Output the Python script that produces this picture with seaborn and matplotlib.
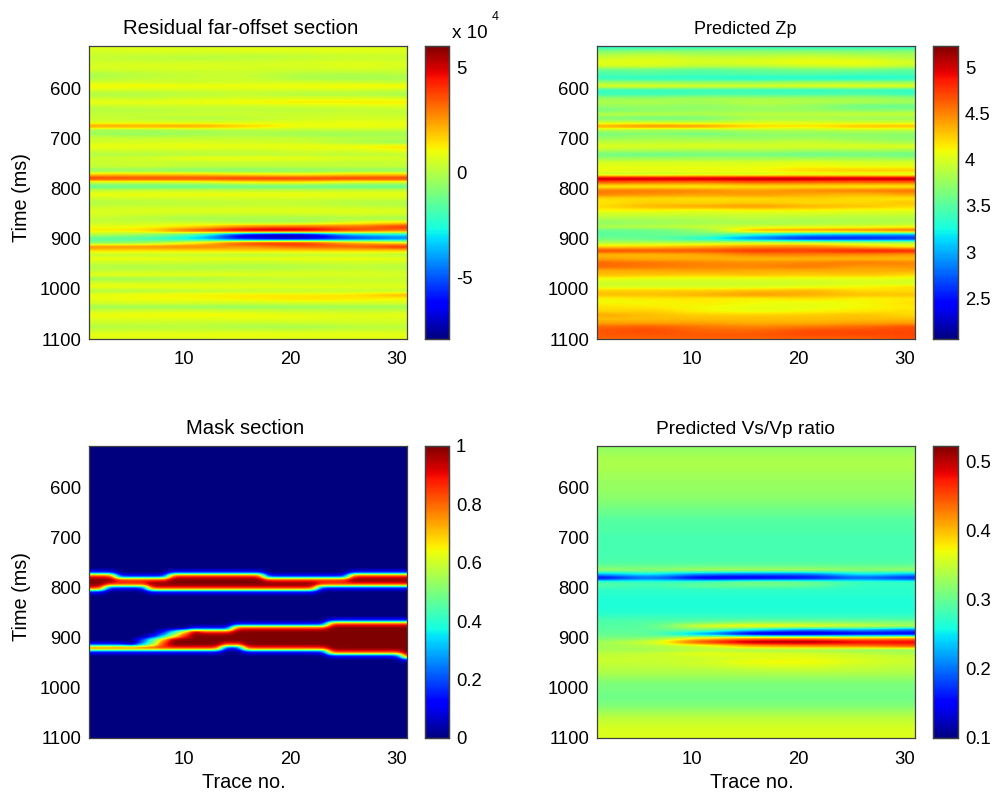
import numpy as np
import pandas as pd
import matplotlib
matplotlib.use("Agg")
import matplotlib.pyplot as plt
import seaborn as sns

traces_coarse = [1, 6, 11, 16, 21, 26, 31]
times = list(range(516, 1101, 8))

residual = [
 [.6,.6,.6,.6,.6,.6,.5],[.6,.8,.7,.9,.8,.9,.7],[.4,.4,.4,.3,.4,.5,.5],[.3,.1,0,.1,.2,.3,.3],
 [.5,.5,.5,.5,.6,.7,.6],[.6,.7,.7,.6,.6,.8,.6],[.5,.5,.5,.5,.4,.5,.4],[-.2,.1,.3,.3,0,-.1,.1],
 [-.1,.2,.3,.4,-.2,-.3,-.2],[.5,.5,.4,.5,.5,.4,.2],[1.2,1.2,1.1,1,1.1,1.2,1.3],[.6,.5,.5,.6,.5,.5,.3],
 [-.1,-.1,.1,.2,-.1,-.1,-.3],[.4,.3,.5,.6,.7,.7,.6],[1,.9,1,1.2,1.3,1.3,1.3],[.3,.4,.4,.3,.5,.6,.7],
 [0,0,.2,.2,.1,.2,.2],[.3,.3,.4,.4,.4,.4,.3],[.3,.2,-.1,.1,.4,.5,.5],[.6,.6,.5,.6,.8,.9,.8],
 [2.6,2.5,2.6,1.8,1,1,.9],[-.4,-.4,-.3,0,.1,.2,.2],[-.3,-.5,-.3,-.2,-.4,-.4,-.3],[.4,.3,.3,.3,.3,.1,0],
 [.5,.6,.6,.5,.4,-.1,-.5],[1,.9,1,.9,1,1.1,1.5],[.5,.5,.4,.4,.6,.6,1],[-.1,0,0,.1,.2,.1,.2],
 [.4,.5,1,1,.9,.7,.6],[.3,.4,.2,.3,.3,.2,.3],[.3,.4,.2,.2,.2,.3,.3],[-.7,-.8,-1,-1,-.8,-.8,-.8],
 [1.7,1.8,1.8,1.4,1.1,1.7,1.8],[4.2,4,4,4.2,4.2,4.1,4.2],[.3,.3,.3,1,1.1,.4,.3],[-1.5,-1.5,-1.5,-1.4,-1.4,-1.5,-1.5],
 [.3,.4,.4,.3,.3,.4,.4],[1,1,1,1,1,.9,.9],[.4,.5,.5,.5,.6,.5,.5],[-.1,0,.1,.2,.2,-.1,-.1],
 [.3,.4,.3,.4,.4,.3,.1],[.6,.7,.8,.8,.8,.8,.7],[.6,.5,.3,.3,.4,.5,.4],[.3,0,-.3,-.2,-.3,-.2,-.4],
 [.3,.4,.5,-.1,-.2,.9,1.5],[.9,.9,1.4,2.8,3.3,3,4.2],[1.3,1.4,3.8,6,6,4,3],[.1,-.5,-1.6,-7.2,-7.9,-3.6,-3],
 [-1.6,-1.8,-3.4,-7,-7.2,-5.6,-4.6],[-.9,-.7,1.1,4.4,4.6,2.3,1.1],[2.8,2.8,3,2.4,3.4,3.3,4.5],[1.5,1.4,1.5,1.6,1.6,1.7,1.6],
 [.2,.2,.2,0,.1,.2,0],[1,1,.9,.9,1,1,.9],[.4,.4,.4,.3,.4,.5,.4],[-.1,-.1,-.1,-.2,-.1,.1,0],
 [.2,.3,.3,.3,.4,.5,.3],[.9,.9,.9,.8,.7,.7,.6],[-.5,-.4,-.3,.1,.2,.3,.3],[.6,.5,.5,.5,.4,.5,.5],
 [1,1,1,.9,.9,.8,.8],[-.1,-.1,.1,.1,.1,.2,.1],[.9,1.1,1.2,1.3,1.3,1.4,2.2],[.8,1,1,1.2,1.4,1.3,1],
 [.6,.6,.6,.5,.6,.6,.6],[-.4,-.4,-.5,-.6,-.5,-.4,-.4],[.4,.5,.5,.4,.3,.3,.3],[1,1.1,1.2,1.1,.9,.8,.9],
 [.7,.7,.7,.8,.8,.6,.6],[.4,.4,.3,.3,.4,.5,.5],[-.1,0,.1,-.2,-.3,0,.1],[.5,.5,.5,.5,.5,.5,.5],
 [.9,.9,.9,1,.9,.9,.9],[.7,.7,.7,.7,.7,.7,.7],
]

zp = [
 [3.2]*7,[3.6,3.6,3.65,3.65,3.6,3.6,3.6],[3.8,3.9,3.8,3.8,3.85,3.8,3.8],[3.95,4,3.95,3.95,4,3.95,3.85],
 [4.05,4.05,4,4.05,4.1,4.1,4],[4,4,3.9,3.9,3.95,4,3.9],[3.55,3.55,3.5,3.55,3.6,3.6,3.5],[3.45,3.5,3.45,3.5,3.5,3.45,3.45],
 [3.35,3.3,3.3,3.25,3.25,3.25,3.3],[3.75,3.7,3.7,3.7,3.75,3.75,3.7],[4.05,4.1,4.05,4.05,4.1,4.1,4.1],[3.35,3.35,3.35,3.35,3.3,3.35,3.3],
 [3.4,3.4,3.45,3.45,3.45,3.5,3.4],[3.75,3.75,3.8,3.8,3.8,3.8,3.75],[3.85,3.85,3.8,3.9,3.85,3.85,3.8],[3.75,3.75,3.7,3.8,3.75,3.55,3.55],
 [3.6,3.7,3.75,3.75,3.75,3.7,3.7],[3.9,3.9,3.85,3.9,3.9,3.95,3.95],[3.65,3.55,3.6,3.8,3.8,3.75,3.75],[3.95,3.95,3.9,4,4,3.95,3.95],
 [4.4,4.55,4.5,4.25,4.2,4.35,4.35],[3.85,3.75,3.75,3.85,3.85,3.9,3.85],[3.6,3.7,3.6,3.7,3.7,3.7,3.7],[3.75,3.8,3.8,3.75,3.8,3.75,3.7],
 [3.9,3.9,3.9,3.9,3.95,3.85,3.8],[4.05,4,4.05,4,4,4.05,4.05],[3.85,3.85,3.8,3.85,3.8,3.8,3.8],[3.6,3.55,3.6,3.6,3.55,3.6,3.55],
 [3.75,3.8,3.8,3.8,3.8,3.8,3.75],[4,4,4,4,4.05,4,4],[4.05,4.05,4.05,4.05,4.1,4.05,4.05],[4.1,4.05,4.1,4.1,4.25,4.3,4.3],
 [3.9,3.9,3.95,3.95,3.95,3.95,3.9],[5.15,5.15,5.15,5.2,5.2,5.15,5.2],[4.6,4.55,4.5,4.6,4.55,4.55,4.55],[4.1,4.1,4.1,4.15,4.15,4.1,4.1],
 [4.55,4.55,4.5,4.4,4.5,4.55,4.6],[4.5,4.45,4.4,4.45,4.35,4.3,4.4],[4.2,4.2,4.2,4.2,4.25,4.2,4.15],[4.15,4.25,4.2,4.25,4.2,4.2,4.3],
 [4.2,4.35,4.4,4.45,4.35,4.3,4.2],[4.1,4.1,4.05,4.1,4.1,4.05,4.05],[3.95,3.95,3.95,3.95,3.95,3.95,3.95],[3.85,3.85,3.85,3.9,3.85,3.85,3.85],
 [3.7,3.75,3.8,3.8,3.8,3.85,3.85],[3.85,3.9,3.95,3.95,4,4,4.05],[3.55,3.55,3.7,4.45,4.5,4.6,4.7],[3.5,3.55,3.65,3.25,3,2.9,2.9],
 [3.6,3.55,3.25,2.75,2.4,2.45,2.5],[3.85,3.85,3.9,4,4,3.9,3.9],[4.2,4.25,4.35,4.45,4.5,4.3,4.1],[4.75,4.7,4.7,4.8,4.75,4.9,4.9],
 [4.3,4.3,4.35,4.5,4.5,4.45,4.4],[4.4,4.35,4.35,4.3,4.3,4.3,4.3],[4.6,4.55,4.5,4.45,4.5,4.55,4.5],[4.6,4.55,4.5,4.5,4.55,4.4,4.45],
 [4.35,4.35,4.4,4.35,4.35,4.35,4.35],[4.3,4.3,4.25,4.3,4.25,4.3,4.2],[4.1,4.05,4.05,4.05,4.05,4.05,4.05],[3.95,3.95,3.95,3.95,3.95,4,3.95],
 [4,4,4,4,4.05,4.1,4.2],[4.25,4.25,4.25,4.3,4.35,4.2,4.2],[4.3,4.3,4.35,4.45,4.35,4.3,4.3],[4.1,4.15,4.15,4.1,4.2,4.1,4.15],
 [4.1,4.1,4.15,4.1,4.05,4.1,4.2],[4.2,4.15,4.1,4.05,4.05,4.1,4.15],[4.2,4.25,4.1,4.05,4.1,4.15,4.2],[4.4,4.3,4.25,4.25,4.25,4.3,4.2],
 [4.3,4.3,4.3,4.3,4.3,4.3,4.3],[4.4,4.4,4.4,4.35,4.35,4.4,4.4],[4.6,4.65,4.55,4.5,4.55,4.6,4.7],[4.65,4.7,4.6,4.6,4.7,4.7,4.7],
 [4.65,4.65,4.65,4.65,4.7,4.7,4.7],[4.6,4.6,4.6,4.6,4.6,4.6,4.7],
]

ratio = [
 [.32]*7,[.325]*7,[.33]*7,[.335]*7,[.335]*7,[.335]*7,[.335]*7,[.33]*7,
 [.33]*7,[.325]*7,[.325]*7,[.325]*7,[.32]*7,[.32]*7,[.315]*7,[.31]*7,
 [.305]*7,[.3]*7,[.295]*7,[.29]*7,[.29]*7,[.29]*7,[.285]*7,[.285]*7,
 [.285]*7,[.285]*7,[.285]*7,[.285]*7,[.285]*7,[.29]*7,[.3]*7,
 [.33,.32,.34,.34,.34,.32,.33],[.23,.26,.21,.2,.2,.26,.23],[.13,.2,.12,.13,.14,.19,.15],[.29,.28,.29,.32,.31,.28,.28],
 [.29,.28,.3,.3,.3,.27,.27],[.27]*7,[.27]*7,[.265]*7,[.265]*7,[.265]*7,[.265]*7,[.27]*7,
 [.28,.28,.28,.28,.28,.28,.28],[.29,.29,.3,.31,.31,.31,.31],
 [.29,.29,.37,.39,.38,.36,.34],[.295,.295,.31,.24,.2,.22,.19],[.3,.3,.21,.1,.1,.13,.13],
 [.31,.31,.38,.42,.42,.4,.42],[.33,.35,.47,.52,.52,.49,.49],[.33,.34,.35,.41,.42,.43,.45],[.335,.33,.345,.33,.33,.32,.32],
 [.345,.35,.37,.365,.36,.35,.34],[.35,.35,.35,.36,.365,.355,.35],[.35,.35,.355,.375,.375,.36,.35],[.345,.345,.35,.36,.36,.35,.345],
 [.34,.34,.34,.345,.35,.345,.34],[.335]*7,[.325]*7,[.315]*7,[.31]*7,[.31]*7,[.305]*7,[.305]*7,
 [.31]*7,[.315]*7,[.325]*7,[.335]*7,[.345]*7,[.35]*7,[.355]*7,[.36]*7,[.36]*7,[.36]*7,
]

mask_times = list(range(512, 1105, 8))
mask_traces = list(range(1, 32))
band1_first = [776]*3 + [784]*5 + [776]*9 + [784]*8 + [776]*6
band1_last = [800]*2 + [792]*4 + [800]*16 + [792]*9
band2_first = [920]*10 + [888]*4 + [880]*9 + [872]*8
band2_last = [920]*13 + [912]*2 + [920]*8 + [928]*7 + [936]
edge_inner = .88
edge_outer = .12
ramp_traces = [5, 6, 7, 8, 9, 10, 11]
ramp_888 = [0, 0, 0, .15, .4, .7, 1]
ramp_896 = [0, 0, .1, .3, .6, .85, 1]
ramp_904 = [0, .2, .45, .75, 1, 1, 1]
ramp_912 = [0, .25, .5, .85, 1, 1, 1]

mask = pd.DataFrame(0.0, index=mask_times, columns=mask_traces)
for j, tr in enumerate(mask_traces):
    for a, b in ((band1_first[j], band1_last[j]), (band2_first[j], band2_last[j])):
        mask.loc[a:b, tr] = 1.0
        mask.loc[[a, b], tr] = edge_inner
        mask.loc[[a - 8, b + 8], tr] = edge_outer
for row, vals in ((888, ramp_888), (896, ramp_896), (904, ramp_904), (912, ramp_912)):
    for tr, v in zip(ramp_traces, vals):
        mask.loc[row, tr] = v

time_ticks = [600, 700, 800, 900, 1000, 1100]
trace_ticks = [10, 20, 30]
title_sizes = [14.7, 13.0, 14.6, 13.8]
title_shift_px = [-7, -11, -3, -10]
panels = [
    ("Residual far-offset section", pd.DataFrame(residual, index=times, columns=traces_coarse), -7.9, 6.0, [-5, 0, 5], ["-5", "0", "5"]),
    ("Predicted Zp", pd.DataFrame(zp, index=times, columns=traces_coarse), 2.06, 5.23, [2.5, 3, 3.5, 4, 4.5, 5], ["2.5", "3", "3.5", "4", "4.5", "5"]),
    ("Mask section", mask, 0, 1, [0, .2, .4, .6, .8, 1], ["0", "0.2", "0.4", "0.6", "0.8", "1"]),
    ("Predicted Vs/Vp ratio", pd.DataFrame(ratio, index=times, columns=traces_coarse), .1, .523, [.1, .2, .3, .4, .5], ["0.1", "0.2", "0.3", "0.4", "0.5"]),
]
boxes = [(89, 407, 425, 449, 46, 339), (597, 915, 933, 958, 46, 339),
         (89, 407, 425, 449, 446, 738), (597, 915, 933, 958, 446, 738)]

sns.set_theme(style="white")
plt.rcParams["font.family"] = ["Liberation Sans", "DejaVu Sans"]
W, H = 999, 798
FS = 13.3
LS = 14.3
DARK = "#404040"
fig = plt.figure(figsize=(W / 100, H / 100), dpi=100, facecolor="white")

for i, ((title, df, vmin, vmax, cticks, clabels), (l, r, cl, cr, t, b)) in enumerate(zip(panels, boxes)):
    ax = fig.add_axes([l / W, 1 - b / H, (r - l) / W, (b - t) / H])
    cax = fig.add_axes([cl / W, 1 - b / H, (cr - cl) / W, (b - t) / H])
    # seaborn builds the axes and colorbar; the cells are shown smoothed as in the source figure
    sns.heatmap(df, ax=ax, cbar_ax=cax, cmap="jet", vmin=vmin, vmax=vmax,
                xticklabels=False, yticklabels=False)
    mesh = ax.collections[0]
    mesh.set_visible(False)
    ncol, nrow = df.shape[1], df.shape[0]
    ax.imshow(df.values, cmap="jet", vmin=vmin, vmax=vmax, aspect="auto",
              interpolation="gaussian", interpolation_stage="data",
              extent=(-.5, ncol - .5, nrow - .5, -.5))
    ypos = lambda v: np.interp(v, df.index, np.arange(nrow))
    xpos = lambda v: np.interp(v, df.columns, np.arange(ncol))
    ax.set_xlim(xpos(1), xpos(31))
    ax.set_ylim(ypos(1100), ypos(516))
    ax.set_yticks(ypos(time_ticks))
    ax.set_yticklabels([str(v) for v in time_ticks], fontsize=FS, color="black", rotation=0)
    ax.set_xticks(xpos(trace_ticks))
    ax.set_xticklabels([str(v) for v in trace_ticks], fontsize=FS, color="black", rotation=0)
    ax.tick_params(length=0, left=True, bottom=True)
    ax.tick_params(axis="y", pad=5.5)
    ax.tick_params(axis="x", pad=9)
    ax.set_title(title, fontsize=title_sizes[i], pad=9, color="black",
                 x=.5 + title_shift_px[i] / (r - l))
    ax.set_xlabel("Trace no." if i >= 2 else "", fontsize=LS, color="black", labelpad=4, x=.486)
    ax.set_ylabel("Time (ms)" if i % 2 == 0 else "", fontsize=LS, color="black")
    ax.yaxis.set_label_coords(-(l - 31) / (r - l), .483)
    for s in ax.spines.values():
        s.set_visible(True)
        s.set_color(DARK)
        s.set_linewidth(0.9)
    cax.set_yticks(cticks)
    cax.set_yticklabels(clabels, fontsize=FS, color="black")
    cax.tick_params(axis="y", direction="in", left=True, right=True, length=3.5, width=0.7, color=DARK, pad=5)
    for s in cax.spines.values():
        s.set_visible(True)
        s.set_color(DARK)
        s.set_linewidth(0.9)

fig.text(452 / W, 1 - 33 / H, "x 10", fontsize=FS + .3, color="black", va="center", ha="left")
fig.text(492 / W, 1 - 17 / H, "4", fontsize=9, color="black", va="center", ha="left")

fig.savefig("out.png", dpi=100)
